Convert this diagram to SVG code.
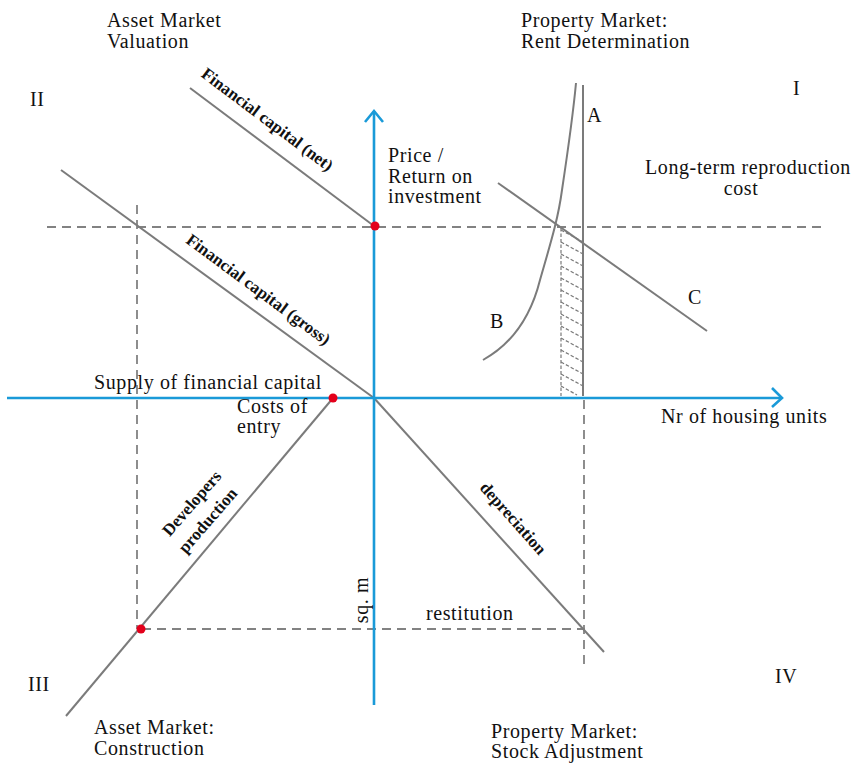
<svg xmlns="http://www.w3.org/2000/svg" width="864" height="763" viewBox="0 0 864 763">
<style>
.t{font-family:"Liberation Serif","Times New Roman",serif;font-size:20px;letter-spacing:0.6px;fill:#111}
.b{font-family:"Liberation Serif","Times New Roman",serif;font-size:17px;font-weight:bold;fill:#111}
.ln{stroke:#7b7b7b;stroke-width:2;fill:none}
.ds{stroke:#828282;stroke-width:1.8;stroke-dasharray:9,6;fill:none}
.ht{stroke:#7a7a7a;stroke-width:1.2;stroke-dasharray:3.5,2;fill:none}
.ax{stroke:#1a9ad8;stroke-width:2.6;fill:none}
.dot{fill:#e3001b}
</style>
<rect width="864" height="763" fill="#fff"/>
<g id="guides">
<path class="ds" d="M47,227 H822"/>
<path class="ds" d="M137,205 V629"/>
<path class="ds" d="M142,629 H585"/>
<path class="ds" d="M584,400 V665"/>
<path class="ht" d="M561,228 V396"/>
<path class="ht" d="M561,230 L583,242 M561,242 L583,254 M561,254 L583,266 M561,266 L583,278 M561,278 L583,290 M561,290 L583,302 M561,302 L583,314 M561,314 L583,326 M561,326 L583,338 M561,338 L583,350 M561,350 L583,362 M561,362 L583,374 M561,374 L583,386 M561,386 L577,395"/>
</g>
<g id="connectors">
<path class="ln" d="M190,88 L374,226"/>
<path class="ln" d="M61,170 L374,398"/>
<path class="ln" d="M374,398 L604,652"/>
<path class="ln" d="M333,398 L66,716"/>
<path class="ln" d="M498,183 L707,331"/>
<path class="ln" d="M583,85 V396"/>
<path class="ln" d="M483,360 C510,345 530,320 540,280 C550,245 558,220 562,190 C568,150 573,115 576,83"/>
</g>
<g id="axes">
<path class="ax" d="M374,705 V111"/>
<path class="ax" d="M365,122 L374,111 L383,122"/>
<path class="ax" d="M7,398 H781"/>
<path class="ax" d="M772,388 L782,398 L772,407"/>
</g>
<g id="points">
<circle class="dot" cx="375" cy="226" r="4.5"/>
<circle class="dot" cx="333" cy="398" r="4.5"/>
<circle class="dot" cx="141" cy="629" r="4.5"/>
</g>
<g id="quadrant-labels">
<text class="t" x="107" y="27">Asset Market</text>
<text class="t" x="107" y="48">Valuation</text>
<text class="t" x="521" y="27">Property Market:</text>
<text class="t" x="521" y="48">Rent Determination</text>
<text class="t" x="94" y="734">Asset Market:</text>
<text class="t" x="94" y="755">Construction</text>
<text class="t" x="491" y="738">Property Market:</text>
<text class="t" x="491" y="758">Stock Adjustment</text>
<text class="t" x="30" y="106">II</text>
<text class="t" x="793" y="95">I</text>
<text class="t" x="28" y="691">III</text>
<text class="t" x="775" y="683">IV</text>
</g>
<g id="labels">
<text class="t" x="587" y="122">A</text>
<text class="t" x="490" y="328">B</text>
<text class="t" x="688" y="304">C</text>
<text class="t" x="388" y="162">Price /</text>
<text class="t" x="388" y="183">Return on</text>
<text class="t" x="388" y="203">investment</text>
<text class="t" x="645" y="174">Long-term reproduction</text>
<text class="t" x="741" y="195" text-anchor="middle">cost</text>
<text class="t" x="94" y="389">Supply of financial capital</text>
<text class="t" x="237" y="413">Costs of</text>
<text class="t" x="237" y="433">entry</text>
<text class="t" x="661" y="423">Nr of housing units</text>
<text class="t" x="426" y="620">restitution</text>
<text class="t" transform="translate(368,600) rotate(-90)" text-anchor="middle">sq. m</text>
<text class="b" transform="translate(264,124) rotate(36.9)" text-anchor="middle">Financial capital (net)</text>
<text class="b" transform="translate(255,294) rotate(36.5)" text-anchor="middle">Financial capital (gross)</text>
<text class="b" transform="translate(509,522) rotate(48.5)" text-anchor="middle">depreciation</text>
<text class="b" transform="translate(196,507) rotate(-49)" text-anchor="middle">Developers</text>
<text class="b" transform="translate(212,524) rotate(-49)" text-anchor="middle">production</text>
</g>
</svg>
